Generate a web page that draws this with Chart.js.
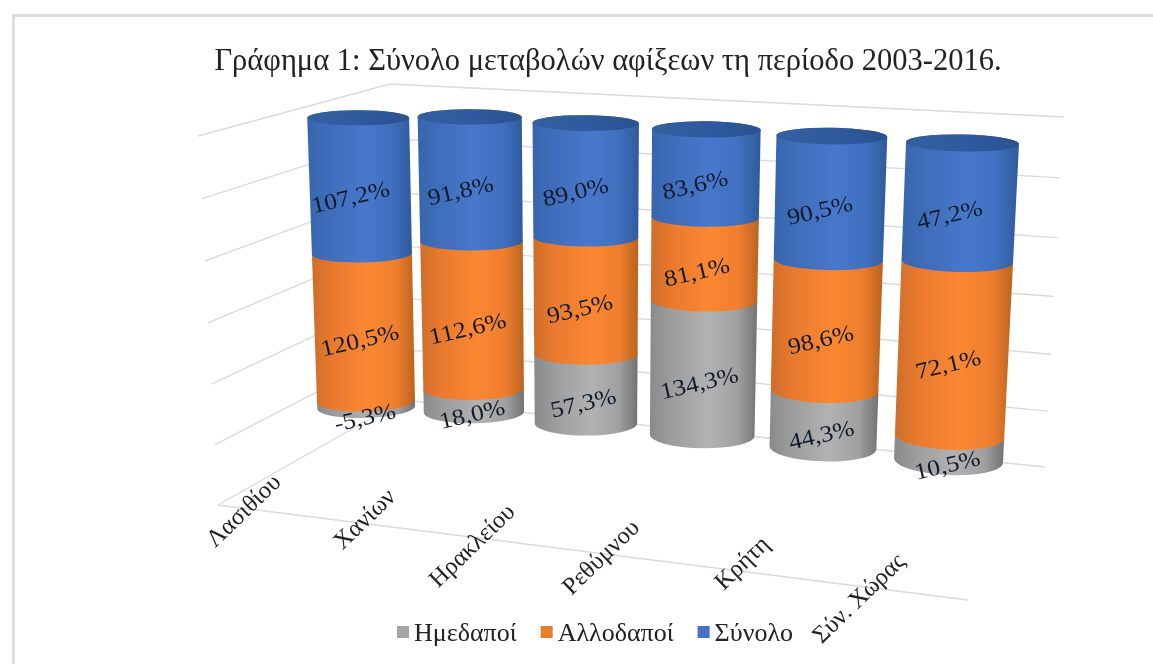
<!DOCTYPE html>
<html lang="el">
<head>
<meta charset="utf-8">
<style>
html,body{margin:0;padding:0;background:#fff;overflow:hidden}
#frame{position:absolute;left:12px;top:14px;width:1160px;height:680px;border-left:3px solid #dedede;border-top:3px solid #dedede}
canvas{position:absolute;left:0;top:0;filter:blur(.45px)}
</style>
<script src="https://cdn.jsdelivr.net/npm/chart.js@4"></script>
</head>
<body>
<div id="frame"></div>
<canvas id="c" width="1153" height="664"></canvas>
<script>
const titleText = 'Γράφημα 1: Σύνολο μεταβολών αφίξεων τη περίοδο 2003-2016.';
const categories = ['Λασιθίου','Χανίων','Ηρακλείου','Ρεθύμνου','Κρήτη','Σύν. Χώρας'];
const domestic = [-5.3, 18.0, 57.3, 134.3, 44.3, 10.5];
const foreign  = [120.5, 112.6, 93.5, 81.1, 98.6, 72.1];
const total    = [107.2, 91.8, 89.0, 83.6, 90.5, 47.2];
const gridTicks = [-20, 0, 20, 40, 60, 80, 100];

const FONT = '"Liberation Serif","Times New Roman",serif';
const absSum = categories.map((_, i) => Math.abs(domestic[i]) + Math.abs(foreign[i]) + Math.abs(total[i]));
const toShare = arr => arr.map((v, i) => v / absSum[i] * 100);

function quad(p0, p1, p2, p3) {
  const dx1 = p1[0]-p2[0], dx2 = p3[0]-p2[0], sx = p0[0]-p1[0]+p2[0]-p3[0];
  const dy1 = p1[1]-p2[1], dy2 = p3[1]-p2[1], sy = p0[1]-p1[1]+p2[1]-p3[1];
  const det = dx1*dy2 - dx2*dy1;
  const g = (sx*dy2 - dx2*sy)/det, h = (dx1*sy - sx*dy1)/det;
  const a = p1[0]-p0[0]+g*p1[0], b = p3[0]-p0[0]+h*p3[0], c = p0[0];
  const d = p1[1]-p0[1]+g*p1[1], e = p3[1]-p0[1]+h*p3[1], f = p0[1];
  return (s, t) => { const w = g*s+h*t+1; return [(a*s+b*t+c)/w, (d*s+e*t+f)/w]; };
}
// camera: planes of the 3-D box, expressed in normalised scale coordinates
const barPlane  = quad([366,401],[948.5,460.5],[962.5,143],[358,111]);
const backWall  = quad([403,400],[1045,467],[1064,117],[390,84]);
const leftWall  = quad([218,505],[403,400],[390,84],[198,136]);
const floorFace = quad([218,505],[968,600],[1045,467],[403,400]);
const bil = (a00,a10,a01,a11,s,t) => (a00*(1-s)+a10*s)*(1-t) + (a01*(1-s)+a11*s)*t;
const rxAt  = (s,t) => bil(49,54.5,51,56.5,s,t);
const ryAt  = (s,t) => bil(10.5,14.5,7.5,8.5,s,t);
const rotAt = (s,t) => bil(-.03,.045,0,.018,s,t);

const shades = {
  '#a5a5a5': ['#8a8a8a','#9d9d9d','#b2b2b2','#a0a0a0','#727272'],
  '#ed7d31': ['#cf6d2a','#e97a2e','#fb8732','#ee7e2e','#b9641f'],
  '#4472c4': ['#3765ad','#3f6dba','#4878cc','#3f6fbd','#2f5a9c']
};
const stops = [0,.2,.55,.82,1];

function ring(s, t) {
  const c = barPlane(s, t);
  return {x:c[0], y:c[1], rx:rxAt(s,t), ry:ryAt(s,t), rot:rotAt(s,t)};
}

function swatch(color) {
  const cv = document.createElement('canvas');
  cv.width = 24; cv.height = 16;
  const c = cv.getContext('2d');
  c.fillStyle = color;
  c.fillRect(10,0,12,12);
  return cv;
}

const cylinders = {
  id: 'cylinders',
  beforeDatasetsDraw(chart) {
    const {ctx, chartArea:a, scales:{y}} = chart;
    ctx.save();
    ctx.strokeStyle = '#dadada';
    ctx.lineWidth = 1.4;
    const seg = (p, q) => { ctx.beginPath(); ctx.moveTo(p[0],p[1]); ctx.lineTo(q[0],q[1]); ctx.stroke(); };
    y.ticks.forEach(tk => {
      const t = (a.bottom - y.getPixelForValue(tk.value)) / a.height;
      seg(leftWall(0,t), leftWall(1,t));
      seg(backWall(0,t), backWall(1,t));
    });
    seg(floorFace(0,0), floorFace(1,0));
    ctx.restore();
  },
  beforeDatasetDraw() { return false; },
  afterDatasetsDraw(chart) {
    const {ctx, chartArea:a, scales:{x,y}} = chart;
    const x0 = x.getPixelForValue(0), step = x.getPixelForValue(1) - x0;
    const place = [];
    chart.data.datasets.forEach((ds, di) => {
      const meta = chart.getDatasetMeta(di);
      meta.data.forEach((el, i) => {
        const s = ((el.x - x0) / step) / 5;
        const vA = y.getValueForPixel(el.y) / 100, vB = y.getValueForPixel(el.base) / 100;
        const hi = ring(s, Math.max(vA,vB)), lo = ring(s, Math.min(vA,vB));
        const xl = Math.min(hi.x-hi.rx, lo.x-lo.rx), xr = Math.max(hi.x+hi.rx, lo.x+lo.rx);
        const g = ctx.createLinearGradient(xl,0,xr,0);
        shades[ds.backgroundColor].forEach((c,k) => g.addColorStop(stops[k],c));
        ctx.beginPath();
        ctx.ellipse(hi.x,hi.y,hi.rx,hi.ry,hi.rot,Math.PI,2*Math.PI);
        ctx.ellipse(lo.x,lo.y,lo.rx,lo.ry,lo.rot,0,Math.PI);
        ctx.closePath();
        ctx.fillStyle = g; ctx.fill();
        if (di === chart.data.datasets.length - 1) {
          const cg = ctx.createLinearGradient(hi.x-hi.rx,0,hi.x+hi.rx,0);
          cg.addColorStop(0,'#34609f'); cg.addColorStop(.5,'#2f5a9f'); cg.addColorStop(1,'#2a5290');
          ctx.beginPath();
          ctx.ellipse(hi.x,hi.y,hi.rx,hi.ry,hi.rot,0,2*Math.PI);
          ctx.fillStyle = cg; ctx.fill();
        }
        const midV = (vA+vB)/2, m = ring(s, midV);
        place.push({x:m.x - 1 - 11*midV, y:m.y + m.ry + 4, text:ds.raw[i]});
      });
    });
    ctx.save();
    ctx.fillStyle = '#111c2b';
    ctx.font = '23px ' + FONT;
    ctx.textAlign = 'center'; ctx.textBaseline = 'middle';
    place.forEach(p => {
      ctx.save();
      ctx.translate(p.x,p.y); ctx.rotate(-13*Math.PI/180); ctx.scale(1.12,1);
      ctx.fillText(p.text.toFixed(1).replace('.',',')+'%',0,0);
      ctx.restore();
    });
    ctx.fillStyle = '#222';
    ctx.font = '24.5px ' + FONT;
    ctx.textAlign = 'right';
    categories.forEach((label,i) => {
      const nx = (x.getPixelForValue(i) - a.left) / a.width;
      const p = floorFace(nx, 0);
      ctx.save();
      ctx.translate(p[0]+4, p[1]-33);
      ctx.rotate(-44*Math.PI/180);
      ctx.fillText(label,0,0);
      ctx.restore();
    });
    ctx.restore();
  },
  afterLayout(chart) {
    chart.titleBlock.left += 13; chart.titleBlock.right += 13;
  }
};

new Chart(document.getElementById('c'), {
  type: 'bar',
  data: {
    labels: categories,
    datasets: [
      {label:'Ημεδαποί',  raw:domestic, data:toShare(domestic), backgroundColor:'#a5a5a5'},
      {label:'Αλλοδαποί', raw:foreign,  data:toShare(foreign),  backgroundColor:'#ed7d31'},
      {label:'Σύνολο',    raw:total,    data:toShare(total),    backgroundColor:'#4472c4'}
    ]
  },
  options: {
    responsive:false, animation:false,
    layout:{padding:{left:37,top:28,bottom:7}},
    datasets:{bar:{categoryPercentage:1,barPercentage:.9}},
    scales:{
      x:{stacked:true,display:false},
      y:{stacked:true,display:false,min:gridTicks[0],max:gridTicks[gridTicks.length-1],ticks:{stepSize:20}}
    },
    plugins:{
      tooltip:{enabled:false},
      title:{display:true,text:titleText,color:'#222',font:{family:FONT,size:30.5,weight:'normal'},padding:{top:16,bottom:8}},
      legend:{position:'bottom',labels:{
        color:'#222',font:{family:FONT,size:26},usePointStyle:true,boxWidth:4,boxHeight:4,padding:24,
        generateLabels(chart){
          return Chart.defaults.plugins.legend.labels.generateLabels(chart).map((it,i)=>{
            it.pointStyle = swatch(chart.data.datasets[i].backgroundColor);
            return it;
          });
        }
      }}
    }
  },
  plugins:[cylinders]
});
</script>
</body>
</html>
